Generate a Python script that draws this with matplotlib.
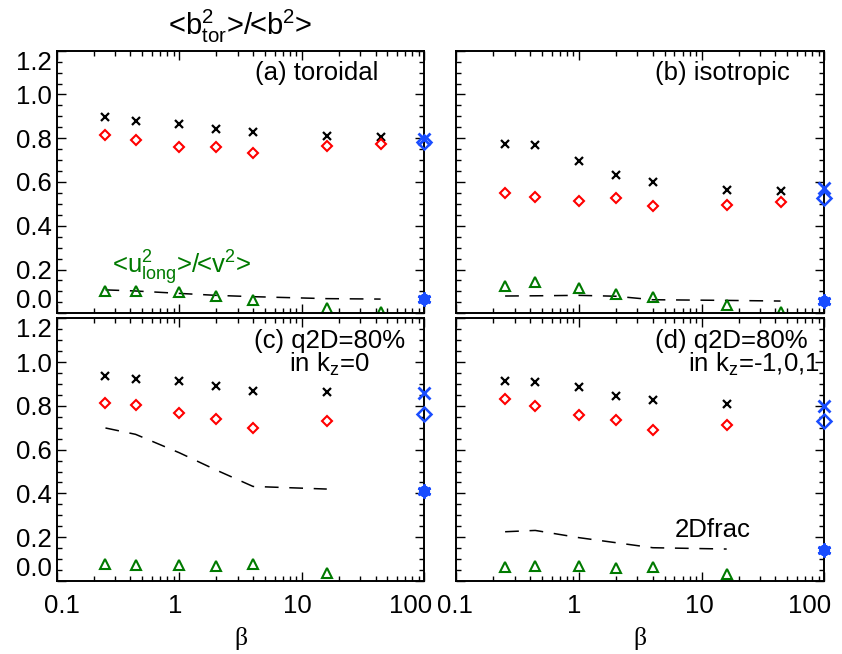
import numpy as np
import matplotlib
matplotlib.use("Agg")
import matplotlib.pyplot as plt
import matplotlib.transforms as mtransforms
from matplotlib.ticker import FixedLocator, LogLocator, NullFormatter

plt.rcParams['font.family'] = ['Liberation Sans', 'DejaVu Sans']
plt.rcParams['mathtext.fontset'] = 'custom'
plt.rcParams['mathtext.rm'] = 'Liberation Sans'
plt.rcParams['mathtext.it'] = 'Liberation Sans'
plt.rcParams['mathtext.bf'] = 'Liberation Sans'

# beta values of the runs
beta = [0.25, 0.44, 1.0, 2.0, 4.0, 16.0, 44.0]
beta_inf = 100.0

# (a) toroidal
a_black = [0.898, 0.880, 0.863, 0.844, 0.827, 0.809, 0.807]
a_red = [0.813, 0.793, 0.758, 0.758, 0.731, 0.764, 0.775]
a_green = [0.102, 0.104, 0.096, 0.079, 0.061, 0.023, 0.004]
a_dash = [0.107, 0.102, 0.091, 0.082, 0.076, 0.067, 0.065]
a_blue = [0.795, 0.784, 0.065]

# (b) isotropic
b_black = [0.774, 0.769, 0.697, 0.633, 0.601, 0.565, 0.559]
b_red = [0.551, 0.531, 0.512, 0.525, 0.489, 0.495, 0.507]
b_green = [0.126, 0.142, 0.116, 0.088, 0.076, 0.038, 0.008]
b_dash = [0.079, 0.080, 0.082, 0.078, 0.062, 0.059, 0.056]
b_blue = [0.571, 0.528, 0.058]

# (c) q2D=80% in kz=0 (no run at beta=44)
c_black = [0.937, 0.924, 0.912, 0.892, 0.870, 0.862]
c_red = [0.815, 0.804, 0.769, 0.740, 0.697, 0.729]
c_green = [0.076, 0.072, 0.072, 0.070, 0.079, 0.038]
c_dash = [0.699, 0.670, 0.586, 0.507, 0.432, 0.420]
c_blue = [0.857, 0.763, 0.413]

# (d) q2D=80% in kz=-1,0,1
d_black = [0.914, 0.909, 0.886, 0.847, 0.827, 0.807]
d_red = [0.830, 0.801, 0.760, 0.734, 0.692, 0.711]
d_green = [0.065, 0.070, 0.070, 0.061, 0.065, 0.030]
d_dash = [0.225, 0.231, 0.198, 0.175, 0.152, 0.146]
d_blue = [0.799, 0.732, 0.142]

ytick_vals = [0.0, 0.2, 0.4, 0.6, 0.8, 1.0, 1.2]
ytick_labels = ["0.0", "0.2", "0.4", "0.6", "0.8", "1.0", "1.2"]
xtick_vals = [0.1, 1, 10, 100]
xtick_labels = ["0.1", "1", "10", "100"]

W, H = 842, 654
fig = plt.figure(figsize=(W / 100, H / 100), dpi=100)

FS = 18.5
GREEN = '#007a00'
BLUE = '#1a4dff'

def px_axes(l, r, t, b):
    return fig.add_axes([l / W, 1 - b / H, (r - l) / W, (b - t) / H])

axes = {
    'a': px_axes(56.7, 424.3, 50.7, 313.3),
    'b': px_axes(456.3, 824.3, 50.7, 313.3),
    'c': px_axes(56.7, 424.3, 318.3, 581.0),
    'd': px_axes(456.3, 824.3, 318.3, 581.0),
}
data = {
    'a': (a_black, a_red, a_green, a_dash, a_blue),
    'b': (b_black, b_red, b_green, b_dash, b_blue),
    'c': (c_black, c_red, c_green, c_dash, c_blue),
    'd': (d_black, d_red, d_green, d_dash, d_blue),
}
# small pixel shifts of the x tick labels, as in the original layout
xlab_shift = {'c': [5, -4, -4, -14], 'd': [-1, -5, -2, -15]}

for key, ax in axes.items():
    blk, red, grn, dsh, blu = data[key]
    n = len(blk)
    x = beta[:n]
    ax.plot(x, dsh, color='black', lw=1.1, ls=(0, (9, 7)))
    ax.plot(x, blk, ls='none', marker='x', ms=6, mew=1.6, color='black')
    ax.plot(x, red, ls='none', marker='D', ms=5.5, mew=1.5, mfc='none', mec='red')
    ax.plot(x, grn, ls='none', marker='^', ms=7, mew=1.5, mfc='none', mec=GREEN)
    # blue markers at beta = infinity, drawn on the right edge
    ax.plot([beta_inf], [blu[0]], ls='none', marker='x', ms=9, mew=2.0, color=BLUE, clip_on=False, zorder=5)
    ax.plot([beta_inf], [blu[1]], ls='none', marker='D', ms=7, mew=1.8, mfc='none', mec=BLUE, clip_on=False, zorder=5)
    ax.plot([beta_inf], [blu[2]], ls='none', marker=(6, 2, 0), ms=10, mew=2.0, color=BLUE, clip_on=False, zorder=5)
    ax.plot([beta_inf], [blu[2]], ls='none', marker=(6, 2, 30), ms=8, mew=1.6, color=BLUE, clip_on=False, zorder=5)

    ax.set_xscale('log')
    ax.set_xlim(0.1, 100)
    ax.set_ylim(0.0, 1.2)
    ax.yaxis.set_major_locator(FixedLocator(ytick_vals))
    ax.yaxis.set_minor_locator(FixedLocator(np.arange(0, 1.21, 0.05)))
    ax.xaxis.set_major_locator(FixedLocator(xtick_vals))
    ax.xaxis.set_minor_locator(LogLocator(base=10, subs=np.arange(2, 10)))
    ax.xaxis.set_minor_formatter(NullFormatter())
    ax.tick_params(which='both', direction='in', top=True, right=True, width=1.0)
    ax.tick_params(which='major', length=6.5)
    ax.tick_params(which='minor', length=3.5)
    for s in ax.spines.values():
        s.set_linewidth(1.4)

    if key in ('a', 'c'):
        ax.set_yticklabels(ytick_labels, fontsize=FS)
        labs = ax.get_yticklabels()
        labs[0].set_va('bottom')
        labs[-1].set_va('top')
    else:
        ax.set_yticklabels([])
    ax.set_xticklabels([])
    if key in ('c', 'd'):
        base = mtransforms.blended_transform_factory(ax.transData, ax.transAxes)
        for xv, lab, dx in zip(xtick_vals, xtick_labels, xlab_shift[key]):
            tr = base + mtransforms.ScaledTranslation(dx / 100, -25 / 100, fig.dpi_scale_trans)
            ax.text(xv, 0, lab, transform=tr, ha='center', va='center', fontsize=FS)
        ax.text(0.5, 0, 'β', transform=ax.transAxes + mtransforms.ScaledTranslation(0, -57 / 100, fig.dpi_scale_trans),
                ha='center', va='center', fontsize=FS, family=['Liberation Serif', 'DejaVu Serif'])

axes['a'].text(0.707, 0.888, '(a) toroidal', transform=axes['a'].transAxes,
               ha='center', va='baseline', fontsize=FS)
axes['a'].text(0.341, 0.152, r'<u$^{2}_{\rm long}$>/<v$^{2}$>', transform=axes['a'].transAxes,
               ha='center', va='baseline', fontsize=FS, color=GREEN)
axes['b'].text(0.724, 0.888, '(b) isotropic', transform=axes['b'].transAxes,
               ha='center', va='baseline', fontsize=FS)
axes['c'].text(0.743, 0.886, '(c) q2D=80%', transform=axes['c'].transAxes,
               ha='center', va='baseline', fontsize=FS)
axes['c'].text(0.741, 0.797, r'in k$_{\rm z}$=0', transform=axes['c'].transAxes,
               ha='center', va='baseline', fontsize=FS)
axes['d'].text(0.747, 0.886, '(d) q2D=80%', transform=axes['d'].transAxes,
               ha='center', va='baseline', fontsize=FS)
axes['d'].text(0.809, 0.797, r'in k$_{\rm z}$=-1,0,1', transform=axes['d'].transAxes,
               ha='center', va='baseline', fontsize=FS)
axes['d'].text(0.698, 0.169, '2Dfrac', transform=axes['d'].transAxes,
               ha='center', va='baseline', fontsize=FS)

fig.text(240 / W, 1 - 35 / H, r'<b$^{2}_{\rm tor}$>/<b$^{2}$>', ha='center', va='baseline', fontsize=21)

fig.savefig('out.png', dpi=100)
